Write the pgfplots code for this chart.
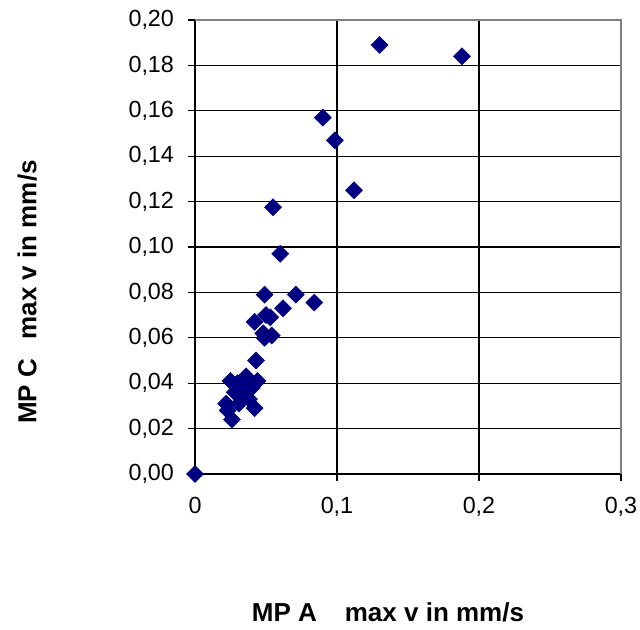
\documentclass[border=0pt]{standalone}
\usepackage{fontspec}
\setmainfont{Liberation Sans}
\usepackage{pgfplots}
\pgfplotsset{compat=1.18}
\definecolor{navy}{RGB}{0,0,128}
\definecolor{frame}{RGB}{128,128,128}
\begin{document}
\begin{tikzpicture}[x=1pt,y=1pt]
\begin{axis}[
  name=ax, at={(0,0)}, anchor=south west,
  scale only axis, width=319.5pt, height=340.5pt,
  xmin=0, xmax=0.3, ymin=0, ymax=0.2,
  xtick={0,0.1,0.2,0.3},
  ytick={0,0.02,...,0.201},
  axis lines=left, axis line style={-, black, line width=0.9pt},
  tick align=outside, major tick length=5.25pt,
  tick style={black, line width=0.9pt},
  grid=major, major grid style={black, line width=0.9pt},
  clip=false,
  ticklabel style={font=\fontsize{17.5}{21}\selectfont},
  /pgf/number format/assume math mode=true,
  xticklabel style={yshift=-8.5pt, /pgf/number format/.cd, fixed, precision=1, use comma},
  yticklabel style={xshift=-7pt, /pgf/number format/.cd, fixed, zerofill, precision=2, use comma},
  xlabel={MP A\hspace{21pt}max v in mm/s},
  ylabel={MP C\hspace{14.5pt}max v in mm/s},
  label style={font=\bfseries\fontsize{19.5}{23}\selectfont},
  xlabel style={at={(axis description cs:0.453,-0.304)}, anchor=center},
  ylabel style={at={(axis description cs:-0.394,0.401)}, anchor=center, rotate=0},
]
\addplot[only marks, mark=square*, mark size=4.5pt,
  mark options={rotate=45, fill=navy, draw=navy}] table {
x y
0 0
0.025 0.041
0.036 0.043
0.044 0.041
0.028 0.036
0.037 0.037
0.022 0.031
0.023 0.028
0.026 0.024
0.042 0.029
0.031 0.031
0.035 0.034
0.033 0.039
0.030 0.040
0.040 0.038
0.038 0.033
0.043 0.050
0.049 0.060
0.054 0.061
0.048 0.062
0.042 0.067
0.050 0.070
0.053 0.069
0.062 0.073
0.049 0.079
0.071 0.079
0.084 0.0755
0.060 0.097
0.055 0.1175
0.112 0.125
0.0985 0.147
0.090 0.157
0.130 0.189
0.188 0.184
};
\draw[frame, line width=1.2pt] (rel axis cs:0,1) -- (rel axis cs:1,1) -- (rel axis cs:1,0);
\end{axis}
\pgfresetboundingbox
\path[use as bounding box] (-146.25pt,-117pt) rectangle (333.75pt,355.5pt);
\end{tikzpicture}
\end{document}
